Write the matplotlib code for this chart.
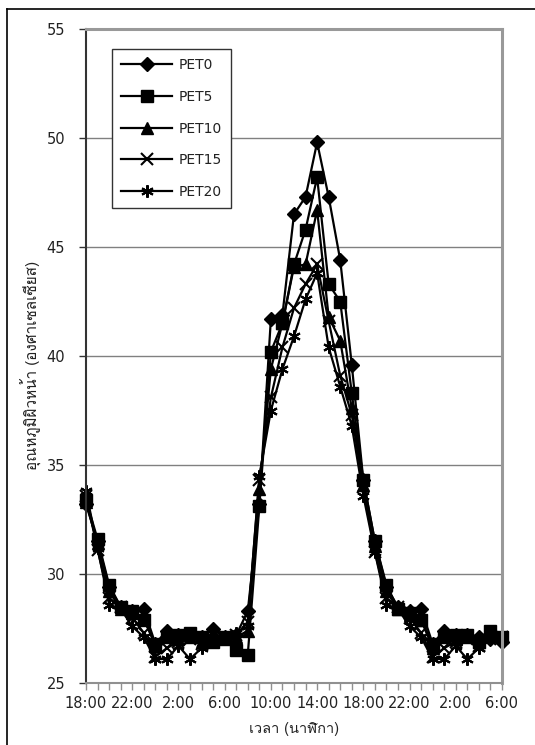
import numpy as np
import matplotlib
matplotlib.use("Agg")
import matplotlib.pyplot as plt
from matplotlib import font_manager
from matplotlib.ft2font import FT2Font
from matplotlib.lines import Line2D

# hourly readings, 18:00 day 1 -> 6:00 day 3
hours = list(range(37))
tick_labels = ["18:00", "22:00", "2:00", "6:00", "10:00", "14:00",
               "18:00", "22:00", "2:00", "6:00"]

pet0 = [33.2, 31.5, 29.4, 28.5, 28.3, 28.4, 26.8, 27.4, 27.2, 27.2, 27.1, 27.5, 27.1,
        27.2, 28.3, 33.2, 41.7, 41.9, 46.5, 47.3, 49.8, 47.3, 44.4, 39.6, 34.3, 31.5,
        29.4, 28.5, 28.3, 28.4, 26.8, 27.4, 27.2, 27.2, 27.1, 27.0, 26.9]
pet5 = [33.4, 31.6, 29.5, 28.5, 28.3, 27.9, 26.8, 27.1, 27.2, 27.3, 27.1, 26.9, 27.1,
        26.5, 26.3, 33.1, 40.2, 41.5, 44.2, 45.8, 48.2, 43.3, 42.5, 38.3, 34.3, 31.5,
        29.5, 28.4, 28.2, 27.9, 26.8, 27.1, 27.2, 27.2, 26.9, 27.4, 27.1]
pet10 = [33.3, 31.4, 29.2, 28.4, 28.2, 28.0, 26.7, 27.2, 27.0, 27.1, 26.9, 27.3, 27.0,
         27.1, 27.4, 33.9, 39.4, 41.5, 44.1, 44.2, 46.7, 41.8, 40.7, 37.6, 34.1, 31.3,
         29.2, 28.4, 28.1, 27.9, 26.6, 27.2, 27.0, 27.1, 26.9, 27.2, 27.1]
pet15 = [33.6, 31.1, 28.9, 28.5, 28.0, 27.3, 26.2, 26.6, 26.9, 27.0, 26.8, 27.0, 27.0,
         27.2, 27.8, 34.3, 38.1, 40.4, 42.2, 43.3, 44.2, 41.6, 39.1, 37.3, 34.0, 31.0,
         28.9, 28.5, 28.0, 27.3, 26.2, 26.6, 26.9, 27.0, 26.7, 27.0, 27.1]
pet20 = [33.8, 31.2, 28.6, 28.4, 27.6, 27.1, 26.1, 26.1, 26.7, 26.1, 26.6, 27.0, 27.0,
         27.3, 27.6, 34.5, 37.5, 39.4, 40.9, 42.6, 43.8, 40.4, 38.6, 36.8, 33.6, 31.0,
         28.6, 28.4, 27.6, 27.1, 26.1, 26.1, 26.7, 26.1, 26.6, 27.0, 27.2]


def thai_font():
    # pick any installed font that has Thai glyphs
    for f in font_manager.fontManager.ttflist:
        try:
            if 0x0E2D in FT2Font(f.fname).get_charmap():
                return f.name
        except Exception:
            pass
    return "DejaVu Sans"

thai = thai_font()
plt.rcParams['font.family'] = ['DejaVu Sans']
txt = "#222222"

fig = plt.figure(figsize=(5.35, 7.45), dpi=100)
ax = fig.add_axes([86/535, 1-683/745, 416/535, 654/745])

series = [
    ("PET0", pet0, dict(marker="D", ms=7.5)),
    ("PET5", pet5, dict(marker="s", ms=8.5)),
    ("PET10", pet10, dict(marker="^", ms=8.5)),
    ("PET15", pet15, dict(marker="x", ms=8, mew=1.5)),
    ("PET20", pet20, dict(marker=(6, 2, 0), ms=9, mew=1.5)),
]
for name, vals, st in series:
    ax.plot(hours, vals, color="black", lw=1.6, label=name, clip_on=False, **st)

ax.set_xlim(0, 36)
ax.set_ylim(25, 55)
ax.set_yticks(np.arange(25, 56, 5))
ax.set_xticks(range(0, 37, 4))
ax.set_xticklabels(tick_labels)
ax.set_xticks(range(37), minor=True)
ax.grid(axis="y", color="#808080", lw=1)
ax.set_axisbelow(True)

ax.tick_params(axis="y", direction="out", length=5, width=1, color="#333333",
               labelsize=10.5, labelcolor=txt, pad=10)
ax.tick_params(axis="x", which="both", direction="out", length=5, width=1,
               color="#909090", labelsize=10.5, labelcolor=txt, pad=4)

ax.spines["left"].set_color("#333333")
ax.spines["left"].set_linewidth(1.5)
ax.spines["bottom"].set_color("#909090")
ax.spines["bottom"].set_linewidth(1.5)
for s in ("top", "right"):
    ax.spines[s].set_color("#999999")
    ax.spines[s].set_linewidth(2.2)

ax.set_ylabel("อุณหภูมิผิวหน้า (องศาเซลเซียส)", family=[thai, "DejaVu Sans"],
              fontsize=11, color=txt)
ax.yaxis.set_label_coords(-0.105, 0.485)
ax.set_xlabel("เวลา (นาฬิกา)", family=[thai, "DejaVu Sans"],
              fontsize=10.5, color=txt, labelpad=8)

leg = ax.legend(loc="upper left", bbox_to_anchor=(0.0625, 0.969), borderaxespad=0,
                fancybox=False, framealpha=1, edgecolor="#333333", fontsize=10,
                handlelength=3.7, labelspacing=1.27, handletextpad=0.45,
                borderpad=0.65)
leg.get_frame().set_linewidth(1)
for t in leg.get_texts():
    t.set_color(txt)

# outer chart border (cropped at right / bottom)
fig.add_artist(Line2D([7/535, 1], [1-9/745, 1-9/745], color="black", lw=1.2,
                      transform=fig.transFigure))
fig.add_artist(Line2D([7/535, 7/535], [0, 1-9/745], color="black", lw=1.2,
                      transform=fig.transFigure))

fig.savefig("out.png", dpi=100)
